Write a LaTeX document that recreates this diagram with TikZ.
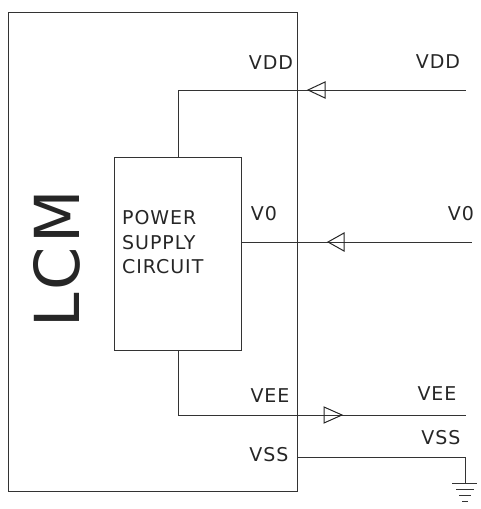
\documentclass[tikz,border=0pt]{standalone}
\usepackage{fontspec}
\newfontfamily\thinfont[LetterSpace=5]{DejaVu Sans}
\tikzset{
  wire/.style={line width=1pt, draw=black!80},
  lbl/.style={font=\thinfont\fontsize{19}{19}\selectfont, inner sep=0pt, text=black!85},
  tri/.style={line width=1pt, draw=black!85},
}
\begin{document}
\begin{tikzpicture}[x=1pt,y=-1pt]
\useasboundingbox (0,0) rectangle (480,509);
% outer LCM box
\node[wire, draw, minimum width=289pt, minimum height=479pt, inner sep=0pt, anchor=north west] (lcm) at (8,12) {};
% power supply circuit box
\node[wire, draw, minimum width=127pt, minimum height=193pt, inner sep=0pt, anchor=north west] (psc) at (114,157) {};
\node[lbl, anchor=base west] (pscpower) at (122,224) {POWER};
\node[lbl, anchor=base west] (pscsupply) at (122,249) {SUPPLY};
\node[lbl, anchor=base west] (psccircuit) at (122,273) {CIRCUIT};
% LCM vertical text
\node[font=\thinfont\fontsize{62}{62}\selectfont, rotate=90, inner sep=0pt, text=black!85] (lcmtext) at (57,259) {LCM};
% coordinates
\coordinate (vddend) at (466,90);
\coordinate (v0end) at (472,242);
\coordinate (veeend) at (466,415);
\coordinate (vsscorner) at (465,457);
\coordinate (gnd) at (465,483);
% VDD
\draw[wire] (psc.north) -- (psc.north |- vddend) -- (vddend);
\draw[tri] (308,90) -- (325,82) -- (325,98) -- cycle;
% V0
\draw[wire] (psc.east |- v0end) -- (v0end);
\draw[tri] (328,242) -- (344,233) -- (344,251) -- cycle;
% VEE
\draw[wire] (psc.south) -- (psc.south |- veeend) -- (veeend);
\draw[tri] (342,415) -- (324,407) -- (324,423) -- cycle;
% VSS
\draw[wire] (lcm.east |- vsscorner) -- (vsscorner) -- (gnd);
\draw[wire] (452,483) -- (477,483);
\draw[wire] (456,489) -- (474,489);
\draw[wire] (459,495) -- (471,495);
\draw[wire] (462,501) -- (468,501);
% labels
\node[lbl] (lvdd) at (271,63) {VDD};
\node[lbl] (rvdd) at (438,62) {VDD};
\node[lbl] (lv0) at (264,214) {V0};
\node[lbl] (rv0) at (461,214) {V0};
\node[lbl] (lvee) at (270,396) {VEE};
\node[lbl] (rvee) at (437,394) {VEE};
\node[lbl] (lvss) at (269,455) {VSS};
\node[lbl] (rvss) at (441,438) {VSS};
\end{tikzpicture}
\end{document}
